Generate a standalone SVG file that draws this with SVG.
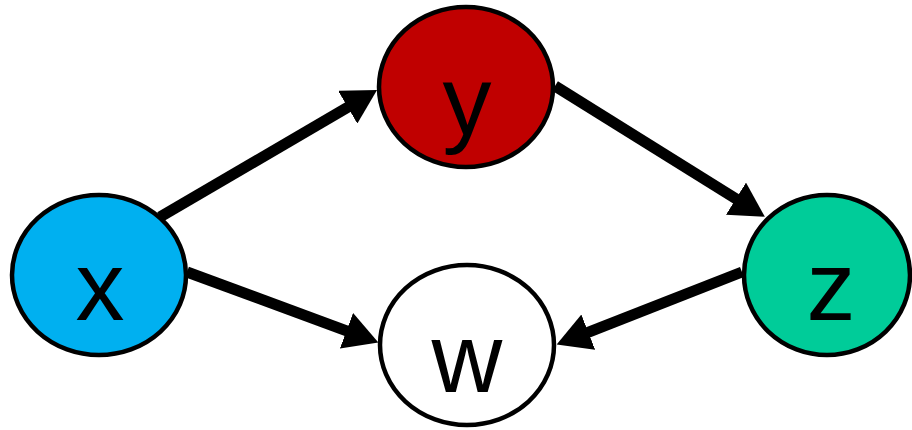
<svg xmlns="http://www.w3.org/2000/svg" width="912" height="430" viewBox="0 0 912 430">
<style>
.node{stroke:#000;stroke-width:4.5}
.lbl{font-family:"Liberation Sans",Arial,sans-serif;font-size:98px;fill:#000;text-anchor:middle}
.edge{stroke:#000;stroke-width:11;fill:none}
</style>
<defs>
<marker id="ah" markerUnits="userSpaceOnUse" viewBox="0 0 34 38" refX="3" refY="19" markerWidth="34" markerHeight="38" orient="auto">
<path d="M0,0 L34,19 L0,38 z" fill="#000"/>
</marker>
</defs>
<g id="edges">
<line class="edge" x1="160" y1="217" x2="350.3" y2="105.7" marker-end="url(#ah)"/>
<line class="edge" x1="187" y1="272" x2="349.3" y2="331.8" marker-end="url(#ah)"/>
<line class="edge" x1="555" y1="86" x2="738.5" y2="200.3" marker-end="url(#ah)"/>
<line class="edge" x1="742" y1="272" x2="585.5" y2="333.3" marker-end="url(#ah)"/>
</g>
<g id="node-x">
<ellipse class="node" cx="99" cy="275" rx="87" ry="80" fill="#00B0F0"/>
<text class="lbl" x="100" y="320">x</text>
</g>
<g id="node-y">
<ellipse class="node" cx="466" cy="87" rx="87" ry="80" fill="#C00000"/>
<text class="lbl" x="467" y="135">y</text>
</g>
<g id="node-w">
<ellipse class="node" cx="467" cy="345" rx="87" ry="80" fill="#FFFFFF"/>
<text class="lbl" x="467" y="392">w</text>
</g>
<g id="node-z">
<ellipse class="node" cx="827" cy="275" rx="83" ry="80" fill="#00CC99"/>
<text class="lbl" x="831" y="320">z</text>
</g>
</svg>
